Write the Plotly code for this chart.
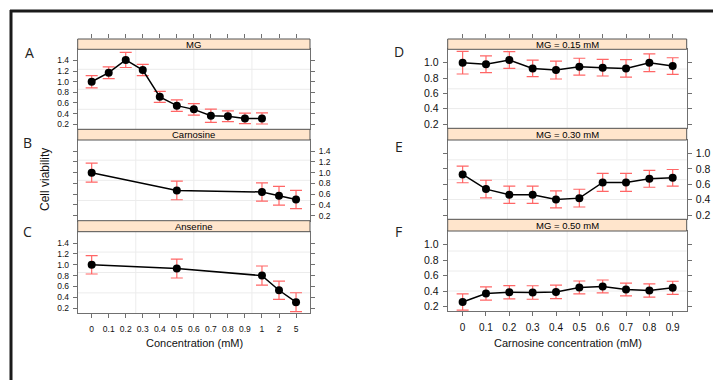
import plotly.graph_objects as go

# ---------------- data ----------------
left_tick_labels = ["0", "0.1", "0.2", "0.3", "0.4", "0.5", "0.6", "0.7", "0.8", "0.9", "1", "2", "5"]

mg_conc = ["0", "0.1", "0.2", "0.3", "0.4", "0.5", "0.6", "0.7", "0.8", "0.9", "1"]
mg_mean = [1.00, 1.17, 1.41, 1.22, 0.715, 0.55, 0.48, 0.36, 0.35, 0.31, 0.31]
mg_err = [0.114, 0.11, 0.142, 0.105, 0.105, 0.108, 0.108, 0.123, 0.10, 0.10, 0.105]

dip_conc = ["0", "0.5", "1", "2", "5"]
carn_mean = [1.00, 0.67, 0.64, 0.57, 0.50]
carn_err = [0.177, 0.174, 0.17, 0.174, 0.17]
ans_mean = [1.00, 0.93, 0.80, 0.53, 0.31]
ans_err = [0.17, 0.174, 0.177, 0.17, 0.174]

carn_conc = [0, 0.1, 0.2, 0.3, 0.4, 0.5, 0.6, 0.7, 0.8, 0.9]
right_tick_labels = ["0", "0.1", "0.2", "0.3", "0.4", "0.5", "0.6", "0.7", "0.8", "0.9"]
d_mean = [1.00, 0.98, 1.035, 0.926, 0.905, 0.948, 0.935, 0.926, 1.00, 0.957]
d_err = [0.147, 0.108, 0.11, 0.108, 0.117, 0.11, 0.108, 0.115, 0.115, 0.108]
e_mean = [0.728, 0.537, 0.464, 0.464, 0.403, 0.42, 0.624, 0.624, 0.671, 0.684]
e_err = [0.108, 0.115, 0.112, 0.112, 0.11, 0.115, 0.117, 0.117, 0.11, 0.108]
f_mean = [0.261, 0.37, 0.387, 0.383, 0.391, 0.448, 0.461, 0.422, 0.409, 0.443]
f_err = [0.104, 0.085, 0.085, 0.087, 0.087, 0.083, 0.083, 0.083, 0.085, 0.085]

left_yticks = [0.2, 0.4, 0.6, 0.8, 1.0, 1.2, 1.4]
right_yticks = [0.2, 0.4, 0.6, 0.8, 1.0]

strip_titles = ["MG", "Carnosine", "Anserine", "MG = 0.15 mM", "MG = 0.30 mM", "MG = 0.50 mM"]
panel_letters = ["A", "B", "C", "D", "E", "F"]

# ---------------- layout geometry (pixels) ----------------
W, H = 713, 380
def px(x):
    return x / W
def py(y):
    return 1 - y / H

def sfx(n):
    return "" if n == 1 else str(n)

FONT = "Liberation Sans, Arial, sans-serif"
ERR_COL = "#ff6666"
BORDER = "#707070"
TICKCOL = "#707070"
STRIP_FILL = "#ffe5cc"
TXT = "#111"

left_x = [77.7, 310.0]
right_x = [447.7, 686.7]
# (strip_top, panel_top, panel_bottom)
left_rows = [(39, 49.3, 129.3), (129.3, 140, 220.7), (220.7, 231.7, 313.3)]
right_rows = [(39, 49.3, 128.3), (128.3, 140, 219.3), (219.3, 231, 311)]

left_xrange = [-0.82, 12.82]
right_xrange = [-0.064, 0.96]
left_yrange = [0.105, 1.61]
right_yrange = [0.145, 1.175]

fig = go.Figure()

series = [
    (mg_conc, mg_mean, mg_err),
    (dip_conc, carn_mean, carn_err),
    (dip_conc, ans_mean, ans_err),
    (carn_conc, d_mean, d_err),
    (carn_conc, e_mean, e_err),
    (carn_conc, f_mean, f_err),
]

layout = {}
shapes = []
annotations = []

for i, (xs, ys, es) in enumerate(series):
    n = i + 1
    s = sfx(n)
    is_left = i < 3
    row = i % 3
    xdom = left_x if is_left else right_x
    st, pt, pb = (left_rows if is_left else right_rows)[row]
    if is_left:
        xvals = [left_tick_labels.index(c) for c in xs]
    else:
        xvals = xs
    fig.add_trace(go.Scatter(
        x=xvals, y=ys, mode="lines+markers",
        line=dict(color="black", width=1.5),
        marker=dict(color="black", size=8),
        error_y=dict(type="data", array=es, visible=True, color=ERR_COL, thickness=1.2, width=6),
        xaxis=f"x{s}", yaxis=f"y{s}", showlegend=False, hoverinfo="skip", cliponaxis=False,
    ))
    bottom = row == 2
    xa = dict(
        domain=[px(xdom[0]), px(xdom[1])], anchor=f"y{s}",
        range=left_xrange if is_left else right_xrange,
        showgrid=False, zeroline=False, showline=True, linecolor=BORDER, linewidth=1, mirror=True,
        ticks="outside" if bottom else "", ticklen=4, tickcolor=TICKCOL,
        showticklabels=bottom,
        tickmode="array",
        tickvals=list(range(len(left_tick_labels))) if is_left else carn_conc,
        ticktext=left_tick_labels if is_left else right_tick_labels,
        tickfont=dict(family=FONT, size=8.5 if is_left else 10, color=TXT),
        ticklabelstandoff=3,
    )
    ticksright = (row == 1)
    yt = left_yticks if is_left else right_yticks
    ya = dict(
        domain=[py(pb), py(pt)], anchor=f"x{s}",
        range=left_yrange if is_left else right_yrange,
        showgrid=False, zeroline=False, showline=True, linecolor=BORDER, linewidth=1, mirror="ticks",
        ticks="outside", ticklen=4, tickcolor=TICKCOL,
        side="right" if ticksright else "left",
        tickmode="array", tickvals=yt, ticktext=[f"{v:.1f}" for v in yt],
        tickfont=dict(family=FONT, size=8.5 if is_left else 10.5, color=TXT),
        ticklabelstandoff=2,
    )
    layout[f"xaxis{s}"] = xa
    layout[f"yaxis{s}"] = ya

    # quarter grid lines
    for f in (0.25, 0.5, 0.75):
        shapes.append(dict(type="line", xref=f"x{s} domain", yref=f"y{s} domain", x0=f, x1=f, y0=0, y1=1,
                           line=dict(color="#ececec", width=1), layer="below"))
        shapes.append(dict(type="line", xref=f"x{s} domain", yref=f"y{s} domain", x0=0, x1=1, y0=f, y1=f,
                           line=dict(color="#ececec", width=1), layer="below"))
    # strip
    shapes.append(dict(type="rect", xref="paper", yref="paper",
                       x0=px(xdom[0]), x1=px(xdom[1]), y0=py(pt), y1=py(st),
                       fillcolor=STRIP_FILL, line=dict(color="#555", width=1), layer="above"))
    annotations.append(dict(xref="paper", yref="paper", x=px((xdom[0] + xdom[1]) / 2), y=py((st + pt) / 2),
                            text=strip_titles[i], showarrow=False, xanchor="center", yanchor="middle",
                            font=dict(family=FONT, size=9.5, color="black")))

# top tick axes (above the first strips)
layout["xaxis7"] = dict(domain=[px(left_x[0]), px(left_x[1])], overlaying="x", anchor="free", position=py(37.5),
                        side="top", range=left_xrange, tickmode="array",
                        tickvals=list(range(len(left_tick_labels))), showticklabels=False,
                        ticks="outside", ticklen=4, tickcolor=TICKCOL, showline=False, showgrid=False, zeroline=False)
layout["xaxis8"] = dict(domain=[px(right_x[0]), px(right_x[1])], overlaying="x4", anchor="free", position=py(37.5),
                        side="top", range=right_xrange, tickmode="array", tickvals=carn_conc, showticklabels=False,
                        ticks="outside", ticklen=4, tickcolor=TICKCOL, showline=False, showgrid=False, zeroline=False)
fig.add_trace(go.Scatter(x=list(range(len(left_tick_labels))), y=[None] * len(left_tick_labels),
                         xaxis="x7", yaxis="y", showlegend=False, hoverinfo="skip"))
fig.add_trace(go.Scatter(x=carn_conc, y=[None] * len(carn_conc),
                         xaxis="x8", yaxis="y4", showlegend=False, hoverinfo="skip"))

# panel letters
letter_pos = [(29, 52.5), (27, 143), (27, 231), (398.5, 51.5), (399, 146), (399, 231)]
for (lx, ly), t in zip(letter_pos, panel_letters):
    annotations.append(dict(xref="paper", yref="paper", x=px(lx), y=py(ly), text=t, showarrow=False,
                            xanchor="center", yanchor="middle",
                            font=dict(family="Open Sans, DejaVu Sans, sans-serif", size=14, color="#222")))

# axis titles
annotations.append(dict(xref="paper", yref="paper", x=px(194), y=py(343), text="Concentration (mM)",
                        showarrow=False, xanchor="center", yanchor="middle",
                        font=dict(family=FONT, size=11, color=TXT)))
annotations.append(dict(xref="paper", yref="paper", x=px(568), y=py(343), text="Carnosine concentration (mM)",
                        showarrow=False, xanchor="center", yanchor="middle",
                        font=dict(family=FONT, size=11, color=TXT)))
annotations.append(dict(xref="paper", yref="paper", x=px(45), y=py(180), text="Cell viability",
                        showarrow=False, xanchor="center", yanchor="middle", textangle=-90,
                        font=dict(family=FONT, size=12, color=TXT)))

# outer frame (top and left edges)
shapes.append(dict(type="line", xref="paper", yref="paper", x0=px(10), x1=1.0, y0=py(11), y1=py(11),
                   line=dict(color="#1a1a1a", width=3)))
shapes.append(dict(type="line", xref="paper", yref="paper", x0=px(11), x1=px(11), y0=py(10), y1=0.0,
                   line=dict(color="#1a1a1a", width=3)))

fig.update_layout(
    width=W, height=H, margin=dict(l=0, r=0, t=0, b=0),
    paper_bgcolor="white", plot_bgcolor="white",
    shapes=shapes, annotations=annotations, **layout,
)

fig.write_html(
    "out.html",
    config={"displayModeBar": False},
    post_script="document.body.style.margin='0';document.body.style.overflow='hidden';",
)
